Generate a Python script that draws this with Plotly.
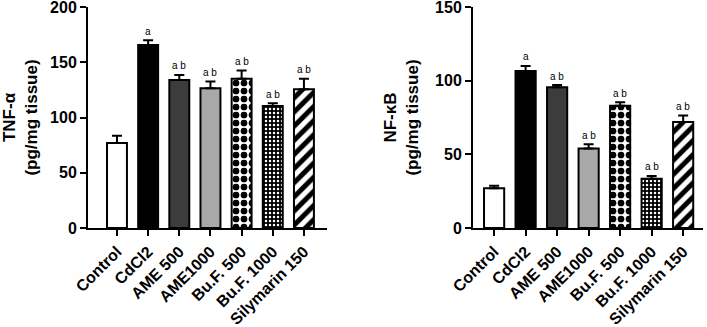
import plotly.graph_objects as go
from plotly.subplots import make_subplots

categories = ["Control", "CdCl2", "AME 500", "AME1000", "Bu.F. 500", "Bu.F. 1000", "Silymarin 150"]
tnf_values = [77, 165.5, 134, 126.5, 135, 110.5, 125.5]
tnf_errors = [6.5, 4.5, 4.5, 6, 7.5, 2.5, 9.5]
nfkb_values = [27, 106.5, 95.5, 54, 83, 33.5, 72]
nfkb_errors = [1.7, 3.5, 1.5, 2.8, 2.3, 1.8, 4.3]
sig_labels = ["", "a", "a b", "a b", "a b", "a b", "a b"]

# style per group
fill_colors = ["white", "black", "#3c3c3c", "#a8a8a8", "white", "black", "white"]
pattern_shapes = ["", "", "", "", ".", ".", "/"]
pattern_fg = ["black", "black", "black", "black", "black", "white", "black"]
pattern_size = [8, 8, 8, 8, 8, 4, 10]
pattern_solid = [0.3, 0.3, 0.3, 0.3, 0.55, 0.3, 0.5]

FONT = "Liberation Sans, Arial, sans-serif"
W, H = 707, 327
ML, MR, MT, MB = 88, 4, 7, 99
PW = W - ML - MR

fig = make_subplots(rows=1, cols=2)


def add_panel(values, errors, col):
    for i, (c, v, e) in enumerate(zip(categories, values, errors)):
        fig.add_trace(go.Bar(
            x=[c], y=[v], width=0.64,
            marker=dict(color=fill_colors[i], line=dict(color="black", width=2),
                        pattern=dict(shape=pattern_shapes[i], fgcolor=pattern_fg[i],
                                     bgcolor=fill_colors[i], size=pattern_size[i],
                                     solidity=pattern_solid[i], fgopacity=1,
                                     fillmode="replace")),
            error_y=dict(type="data", array=[e], arrayminus=[0], symmetric=False,
                         color="black", thickness=2, width=5),
            showlegend=False), row=1, col=col)
    for c, v, e, s in zip(categories, values, errors, sig_labels):
        if s:
            fig.add_annotation(x=c, y=v + e, text=s, showarrow=False, yshift=9,
                               font=dict(size=10, color="black", family=FONT),
                               xref="x" if col == 1 else "x2", yref="y" if col == 1 else "y2")


add_panel(tnf_values, tnf_errors, 1)
add_panel(nfkb_values, nfkb_errors, 2)

tick_font = dict(family=FONT, size=16, color="black", weight="bold")
x_font = dict(family=FONT, size=16, color="black", weight="bold")
title_font = dict(family=FONT, size=17, color="black", weight="bold")

fig.update_xaxes(showline=True, linecolor="black", linewidth=2, ticks="outside", ticklen=6,
                 tickwidth=2, tickcolor="black", tickangle=-45, tickfont=x_font,
                 showgrid=False, zeroline=False, automargin=False, ticklabeloverflow="allow")
fig.update_yaxes(showline=True, linecolor="black", linewidth=2, ticks="outside", ticklen=6,
                 tickwidth=2, tickcolor="black", tickfont=tick_font, showgrid=False,
                 zeroline=False, automargin=False, ticklabeloverflow="allow")

fig.update_xaxes(domain=[0, (327 - ML) / PW], range=[-0.93, 6.74], row=1, col=1)
fig.update_xaxes(domain=[(473 - ML) / PW, 1], range=[-0.67, 6.63], row=1, col=2)
fig.update_yaxes(range=[0, 200], tickvals=[0, 50, 100, 150, 200],
                 title=dict(text="TNF-α<br>(pg/mg tissue)", font=title_font, standoff=8),
                 row=1, col=1)
fig.update_yaxes(range=[0, 150], tickvals=[0, 50, 100, 150],
                 title=dict(text="NF-κB<br>(pg/mg tissue)", font=title_font, standoff=12),
                 row=1, col=2)

fig.update_layout(width=W, height=H, margin=dict(l=ML, r=MR, t=MT, b=MB),
                  paper_bgcolor="white", plot_bgcolor="white", barmode="overlay")

fig.write_html("out.html", config={"displayModeBar": False},
               post_script="document.body.style.margin='0';")
